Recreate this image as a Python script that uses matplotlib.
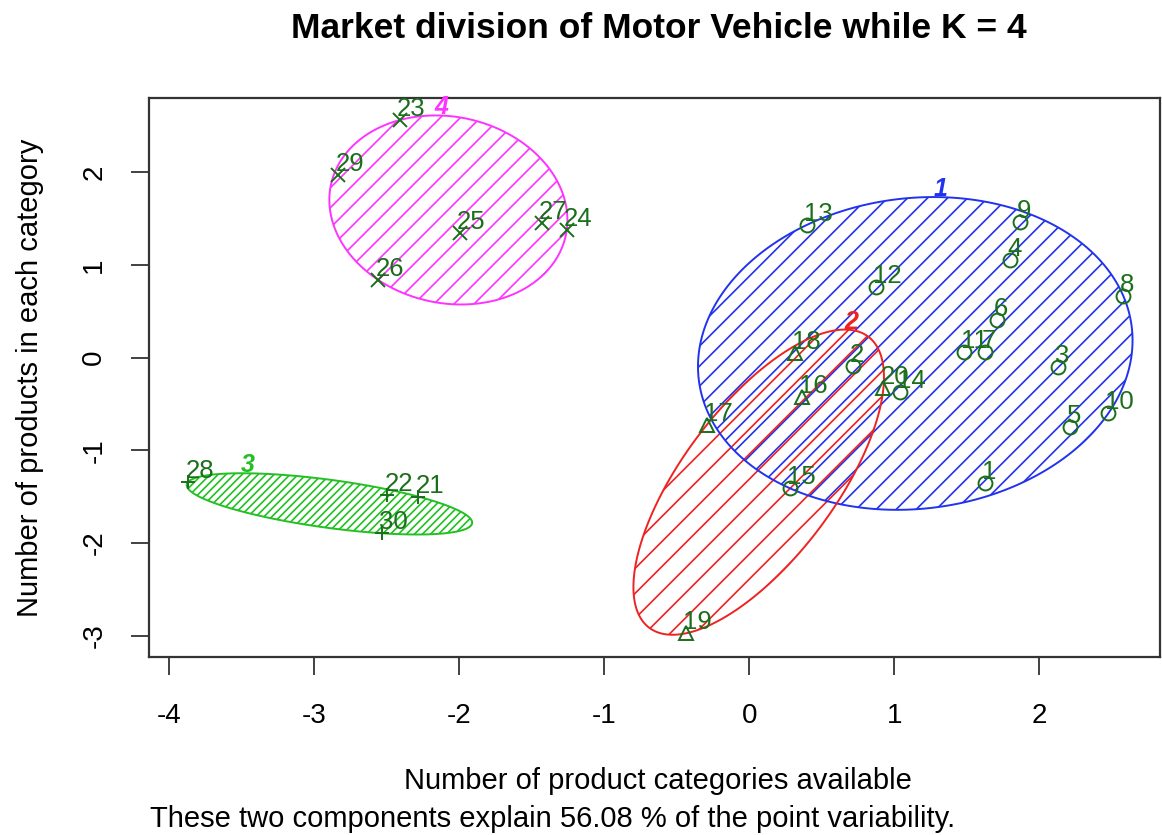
import numpy as np
import matplotlib.pyplot as plt
from matplotlib.patches import Polygon

plt.rcParams['font.family'] = ['Liberation Sans', 'DejaVu Sans']
plt.rcParams['axes.unicode_minus'] = False

# first two principal components of each product
pc1 = [1.626, 0.714, 2.131, 1.798, 2.212, 1.706, 1.626, 2.579, 1.867, 2.476,
       1.483, 0.874, 0.396, 1.040, 0.281, 0.362, -0.293, 0.316, -0.436, 0.925,
       -2.281, -2.495, -2.407, -1.258, -1.994, -2.557, -1.431, -3.867, -2.833, -2.534]
pc2 = [-1.355, -0.090, -0.097, 1.054, -0.744, 0.407, 0.065, 0.666, 1.467, -0.600,
       0.065, 0.766, 1.431, -0.367, -1.409, -0.421, -0.726, 0.051, -2.973, -0.330,
       -1.499, -1.481, 2.564, 1.378, 1.342, 0.838, 1.450, -1.338, 1.971, -1.894]
cluster = [1, 1, 1, 1, 1, 1, 1, 1, 1, 1, 1, 1, 1, 1, 1,
           2, 2, 2, 2, 2,
           3, 3, 4, 4, 4, 4, 4, 3, 4, 3]

clus_colors = {1: '#2233ee', 2: '#ee2222', 3: '#22c022', 4: '#ff33ff'}
clus_markers = {1: 'o', 2: '^', 3: '+', 4: 'x'}
hatch_step = {1: 20, 2: 25, 3: 8, 4: 20}   # pixels between hatch lines
pt_col = '#1b6e1b'

W, H = 1162, 835
fig = plt.figure(figsize=(W / 100, H / 100), dpi=100)
ax = fig.add_axes([149 / W, 1 - 657.3 / H, (1160 - 149) / W, (657.3 - 98) / H])
xlim = (-4.138, 2.832)
ylim = (-3.232, 2.801)
ax.set_xlim(xlim)
ax.set_ylim(ylim)

# pixels per data unit, used to make hatching 45 deg on screen
px = (1160 - 149) / (xlim[1] - xlim[0])
py = (657.3 - 98) / (ylim[1] - ylim[0])


def mvee(P, tol=1e-9, maxit=50000):
    # minimum volume enclosing ellipse (Khachiyan), like ellipsoidhull in R
    N, d = P.shape
    Q = np.vstack([P.T, np.ones(N)])
    u = np.ones(N) / N
    for _ in range(maxit):
        X = Q @ np.diag(u) @ Q.T
        M = np.einsum('ij,ji->i', Q.T @ np.linalg.inv(X), Q)
        j = np.argmax(M)
        step = (M[j] - d - 1) / ((d + 1) * (M[j] - 1))
        new_u = (1 - step) * u
        new_u[j] += step
        if np.linalg.norm(new_u - u) < tol:
            u = new_u
            break
        u = new_u
    c = P.T @ u
    A = np.linalg.inv(P.T @ np.diag(u) @ P - np.outer(c, c)) / d
    return c, A


x = np.array(pc1)
y = np.array(pc2)
cl = np.array(cluster)
t = np.linspace(0, 2 * np.pi, 400)

for k in [1, 2, 3, 4]:
    P = np.column_stack([x[cl == k], y[cl == k]])
    c, A = mvee(P)
    w, V = np.linalg.eigh(A)
    E = c[:, None] + V @ np.diag(1 / np.sqrt(w)) @ np.vstack([np.cos(t), np.sin(t)])
    col = clus_colors[k]
    poly = Polygon(E.T, closed=True, fill=False, edgecolor=col, lw=1.4, zorder=2)
    ax.add_patch(poly)
    # hatching lines clipped to the ellipse
    cc = E[1] * py - E[0] * px
    xs = np.array([E[0].min() - 0.1, E[0].max() + 0.1])
    for c0 in np.arange(cc.min(), cc.max(), hatch_step[k] * 1.0):
        ln, = ax.plot(xs, (xs * px + c0) / py, color=col, lw=1.2, zorder=1)
        ln.set_clip_path(poly)
    top = np.argmax(E[1])
    ax.annotate(str(k), (E[0][top], E[1][top]), xytext=(6, -4), textcoords='offset pixels',
                color=col, fontsize=18, fontweight='bold', fontstyle='italic',
                ha='center', va='bottom', zorder=4)

for i in range(len(x)):
    k = cl[i]
    ax.plot(x[i], y[i], marker=clus_markers[k], ms=10, mfc='none', mec=pt_col,
            mew=1.4, ls='none', zorder=3)
    ax.annotate(str(i + 1), (x[i], y[i]), xytext=(-3, 11), textcoords='offset pixels',
                ha='left', va='center', color=pt_col, fontsize=18.5, zorder=4)

ax.set_xticks(range(-4, 3))
ax.set_yticks(range(-3, 3))
ax.tick_params(axis='both', length=13, width=1.3, labelsize=20, color='#333333')
ax.tick_params(axis='x', pad=20)
ax.tick_params(axis='y', pad=17, labelrotation=90)
for lab in ax.get_yticklabels():
    lab.set_va('center')
for s in ax.spines.values():
    s.set_linewidth(1.6)
    s.set_color('#333333')

fig.text(659 / W, 1 - 29 / H, 'Market division of Motor Vehicle while K = 4',
         ha='center', va='center', fontsize=25.5, fontweight='bold')
fig.text(658 / W, 1 - 781 / H, 'Number of product categories available',
         ha='center', va='center', fontsize=21)
fig.text(150 / W, 1 - 819 / H, 'These two components explain 56.08 % of the point variability.',
         ha='left', va='center', fontsize=21)
fig.text(30 / W, 1 - 378 / H, 'Number of products in each category',
         ha='center', va='center', rotation=90, fontsize=21)

fig.savefig('out.png', dpi=100)
